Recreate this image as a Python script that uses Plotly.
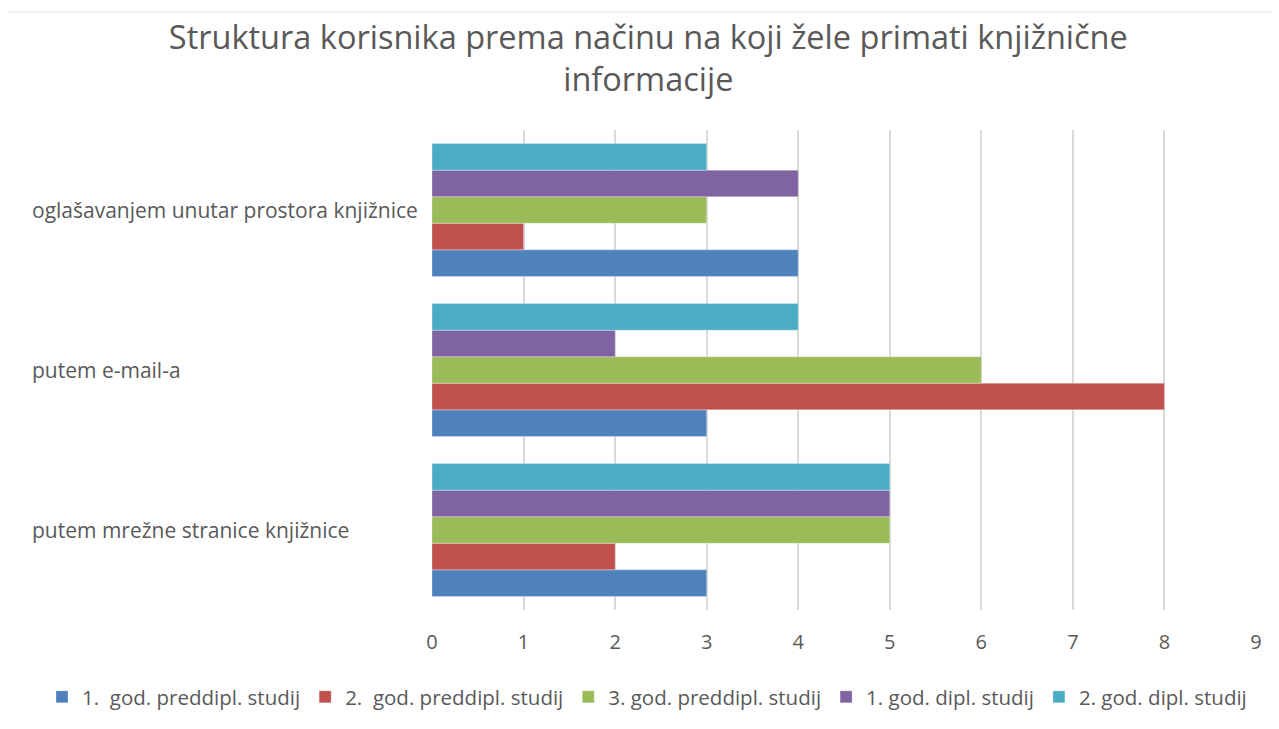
import plotly.graph_objects as go

# categories bottom -> top, as drawn
categories = [
    "putem mrežne stranice knjižnice",
    "putem e-mail-a",
    "oglašavanjem unutar prostora knjižnice",
]
series_names = [
    "1.  god. preddipl. studij",
    "2.  god. preddipl. studij",
    "3. god. preddipl. studij",
    "1. god. dipl. studij",
    "2. god. dipl. studij",
]
god1_preddipl = [3, 3, 4]
god2_preddipl = [2, 8, 1]
god3_preddipl = [5, 6, 3]
god1_dipl = [5, 2, 4]
god2_dipl = [5, 4, 3]
x_ticks = [0, 1, 2, 3, 4, 5, 6, 7, 8, 9]

colors = ["#4F81BD", "#C0504D", "#9BBB59", "#8064A2", "#4BACC6"]
values = [god1_preddipl, god2_preddipl, god3_preddipl, god1_dipl, god2_dipl]

FONT = "Open Sans"
GREY = "#595959"

# page body adds 8px margin, so the figure is drawn 8px smaller
W, H = 1263, 713
L, R, T, B = 424, 15, 122, 111
plot_w = W - L - R
plot_h = H - T - B


def px_x(p):
    return (p - L) / plot_w


def px_y(p):
    return (H - B - p) / plot_h


fig = go.Figure()
for name, vals, col in zip(series_names, values, colors):
    fig.add_trace(go.Bar(
        y=categories,
        x=vals,
        name=name,
        orientation="h",
        marker=dict(color=col, line=dict(color="rgba(255,255,255,0.6)", width=0.5)),
    ))

# left-aligned category labels
annotations = [
    dict(text=c, x=px_x(22), xref="paper", xanchor="left",
         y=c, yref="y", showarrow=False,
         font=dict(family=FONT, size=21, color=GREY))
    for c in categories
]

fig.update_layout(
    width=W,
    height=H,
    margin=dict(l=L, r=R, t=T, b=B, autoexpand=False),
    paper_bgcolor="white",
    plot_bgcolor="white",
    barmode="group",
    bargap=0.17,
    bargroupgap=0,
    title=dict(
        text="Struktura korisnika prema načinu na koji žele primati knjižnične<br>informacije",
        x=0.507,
        xanchor="center",
        y=1 - 41 / H,
        yanchor="middle",
        font=dict(family=FONT, size=32.5, color=GREY),
    ),
    font=dict(family=FONT, color=GREY),
    legend=dict(
        orientation="h",
        x=px_x(34),
        xanchor="left",
        xref="paper",
        y=px_y(689),
        yref="paper",
        yanchor="middle",
        font=dict(family=FONT, size=20.5, color=GREY),
        itemwidth=30,
        traceorder="normal",
    ),
    annotations=annotations,
    showlegend=True,
)
fig.update_xaxes(
    range=[0, 9],
    tickvals=x_ticks,
    showgrid=True,
    gridcolor="#D9D9D9",
    gridwidth=1.5,
    zeroline=False,
    showline=False,
    ticks="",
    ticklabelstandoff=18,
    tickfont=dict(family=FONT, size=20, color=GREY),
)
fig.update_yaxes(
    showticklabels=False,
    showgrid=False,
    zeroline=False,
    showline=False,
    categoryorder="array",
    categoryarray=categories,
)
# light outer chart border
fig.add_shape(
    type="rect", xref="paper", yref="paper",
    x0=px_x(-10), x1=px_x(1267),
    y0=px_y(740), y1=px_y(4),
    line=dict(color="#E6E6E6", width=1),
)

fig.write_html("out.html")
